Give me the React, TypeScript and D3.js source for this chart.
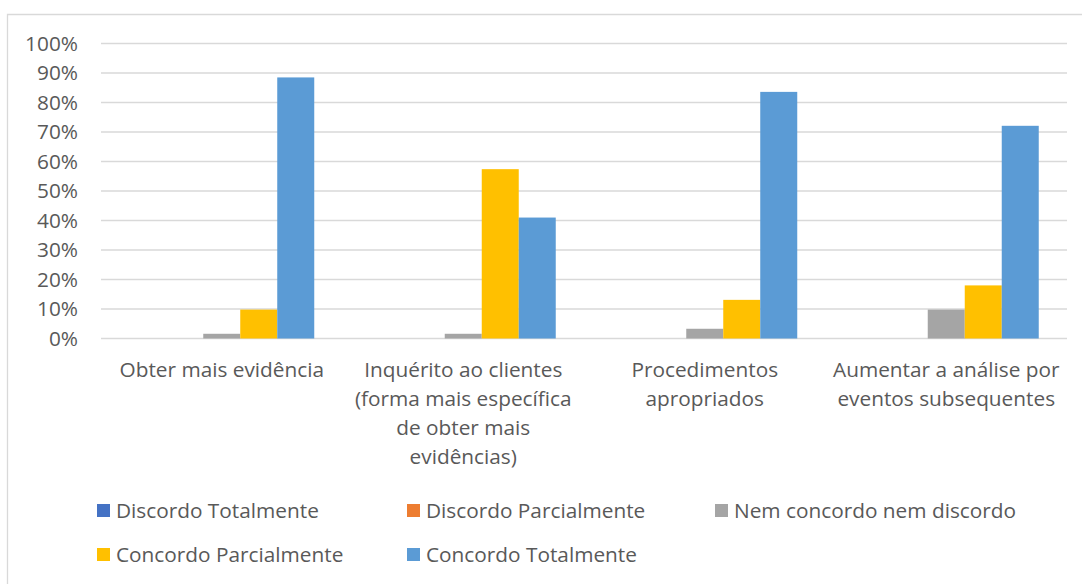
import React from "react";
import * as d3 from "d3";

const categories: string[][] = [
  ["Obter mais evidência"],
  ["Inquérito ao clientes", "(forma mais específica", "de obter mais", "evidências)"],
  ["Procedimentos", "apropriados"],
  ["Aumentar a análise por", "eventos subsequentes"],
];
const seriesNames = [
  "Discordo Totalmente",
  "Discordo Parcialmente",
  "Nem concordo nem discordo",
  "Concordo Parcialmente",
  "Concordo Totalmente",
];
const seriesColors = ["#4472C4", "#ED7D31", "#A5A5A5", "#FFC000", "#5B9BD5"];
const discordoTotalmente = [0, 0, 0, 0];
const discordoParcialmente = [0, 0, 0, 0];
const nemConcordo = [1.6, 1.6, 3.3, 9.8];
const concordoParcialmente = [9.8, 57.4, 13.1, 18.0];
const concordoTotalmente = [88.5, 41.0, 83.6, 72.1];
const yTicks = [0, 10, 20, 30, 40, 50, 60, 70, 80, 90, 100];

const seriesValues = [discordoTotalmente, discordoParcialmente, nemConcordo, concordoParcialmente, concordoTotalmente];

const W = 1082;
const H = 584;
const left = 101;
const right = 1067;
const top = 43.5;
const bottom = 338.5;
const font = "'Open Sans', sans-serif";
const textColor = "#595959";
const fs = 20.8;

export default function App() {
  const x0 = d3.scaleBand<number>().domain(d3.range(categories.length)).range([left, right]).paddingInner(0.234).paddingOuter(0.117);
  const x1 = d3.scaleBand<number>().domain(d3.range(seriesNames.length)).range([0, x0.bandwidth()]);
  const y = d3.scaleLinear().domain([0, 100]).range([bottom, top]);
  const groupW = (right - left) / categories.length;

  const legendPos = [
    { x: 97, y: 511 },
    { x: 407, y: 511 },
    { x: 715, y: 511 },
    { x: 97, y: 555 },
    { x: 407, y: 555 },
  ];

  return (
    <svg width={W} height={H} style={{ position: "absolute", left: 0, top: 0 }}>
      <rect x={0} y={0} width={W} height={H} fill="#fff" />
      <path d={`M7.5,${H} V14.5 H${W}`} fill="none" stroke="#d9d9d9" strokeWidth={1.3} />
      {yTicks.map((t) => (
        <g key={t}>
          <line x1={left} x2={right} y1={y(t)} y2={y(t)} stroke="#d9d9d9" strokeWidth={1.3} />
          <text x={78} y={y(t)} dy="0.36em" textAnchor="end" fontFamily={font} fontSize={fs} fill={textColor}>
            {t}%
          </text>
        </g>
      ))}
      {categories.map((c, i) => {
        const gx = left + groupW * i + (groupW - x0.bandwidth()) / 2;
        return (
          <g key={i}>
            {seriesValues.map((vals, s) =>
              vals[i] > 0 ? (
                <rect key={s} x={gx + (x1(s) as number)} y={y(vals[i])} width={x1.bandwidth()} height={y(0) - y(vals[i])} fill={seriesColors[s]} />
              ) : null
            )}
            {c.map((line, k) => (
              <text key={k} x={left + groupW * (i + 0.5)} y={370 + k * 29} dy="0.36em" textAnchor="middle" fontFamily={font} fontSize={fs} fill={textColor}>
                {line}
              </text>
            ))}
          </g>
        );
      })}
      {seriesNames.map((n, s) => (
        <g key={n}>
          <rect x={legendPos[s].x} y={legendPos[s].y - 7} width={13} height={13} fill={seriesColors[s]} />
          <text x={legendPos[s].x + 19} y={legendPos[s].y} dy="0.36em" fontFamily={font} fontSize={fs} fill={textColor}>
            {n}
          </text>
        </g>
      ))}
    </svg>
  );
}
